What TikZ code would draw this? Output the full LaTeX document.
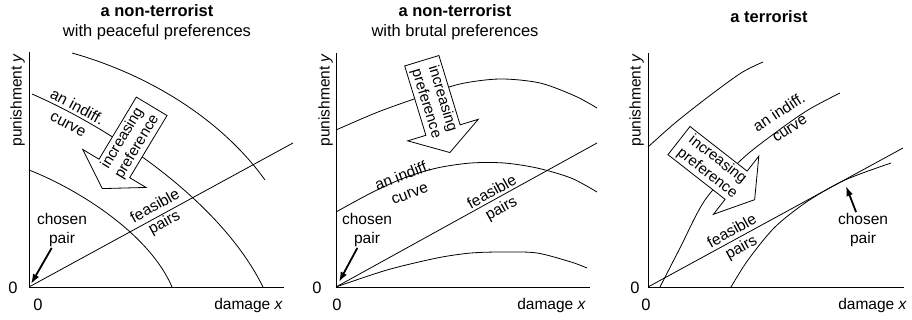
\documentclass[tikz,border=0pt]{standalone}
\usepackage{fontspec}
\setmainfont{Liberation Sans}
\usetikzlibrary{arrows.meta, shapes.arrows}

\newcommand{\lblsize}{\fontsize{15.5}{19}\selectfont}
\newcommand{\ttlsize}{\fontsize{16.5}{20}\selectfont}
\newcommand{\prefsize}{\fontsize{15}{17}\selectfont}

\begin{document}
\begin{tikzpicture}[x=1pt, y=1pt, >=Latex]
    % Stili
    \tikzstyle{axis} = [line width=0.9pt]
    \tikzstyle{curve} = [line width=0.8pt]
    \tikzstyle{lbl} = [font=\lblsize, align=center, inner sep=1pt]
    \tikzstyle{zero} = [font=\fontsize{16.5}{19}\selectfont, inner sep=1pt]
    \tikzstyle{ttl} = [font=\ttlsize, align=center, inner sep=0pt]
    \tikzstyle{pref} = [single arrow, draw, fill=white, line width=0.8pt, font=\prefsize, align=center, inner sep=2pt, single arrow head extend=19pt, single arrow tip angle=115, minimum height=96pt, anchor=tip]
    \tikzstyle{pick} = [-{Latex[length=10pt, width=7pt]}, line width=1.8pt]

    \useasboundingbox (0,0) rectangle (912,320);

    % Pannello 1: non-terrorist, peaceful
    \node[ttl] (t1) at (157,298) {\textbf{a non-terrorist}\\with peaceful preferences};
    \coordinate (o1) at (29,33);
    \draw[axis] (o1) ++(0,235) -- (o1) -- ++(255,0);
    \draw[curve] (72,267) .. controls (150,245) and (222,200) .. (265,140);
    \draw[curve] (32,226) .. controls (110,192) and (220,120) .. (263,33);
    \draw[curve] (29,150) .. controls (80,130) and (150,85) .. (172,33);
    \draw[curve] (o1) -- (293,177);

    \node[lbl, rotate=90, anchor=south] (py1) at (26,220) {punishment \textit{y}};
    \node[lbl, anchor=east] (dx1) at (284,15) {damage \textit{x}};
    \node[zero] (zy1) at (13,32) {0};
    \node[zero] (zx1) at (38,15) {0};
    \node[lbl, rotate=-28] (ic1) at (73,205) {an indiff.\\curve};
    \node[lbl, rotate=29] (fp1) at (160,105) {feasible\\pairs};
    \node[lbl] (cp1) at (62,90) {chosen\\pair};
    \coordinate (ch1) at (31,36);
    \draw[pick] (cp1) -- (ch1);
    \node[pref, rotate=59, shape border rotate=180] (ip1) at (102,131) {increasing\\preference};

    % Pannello 2: non-terrorist, brutal
    \node[ttl] (t2) at (455,298) {\textbf{a non-terrorist}\\with brutal preferences};
    \coordinate (o2) at (336,33);
    \draw[axis] (o2) ++(0,234) -- (o2) -- ++(254,0);
    \draw[curve] plot[smooth] coordinates {(336,190) (378,208) (420,223) (460,236) (500,241) (540,237) (575,224) (597,212)};
    \draw[curve] plot[smooth] coordinates {(336,108) (371,127) (404,142) (437,152) (471,157) (504,157) (537,152) (571,142) (597,128)};
    \draw[curve] plot[smooth] coordinates {(336,33) (387,50) (437,62) (471,67) (504,68) (537,67) (571,58) (587,52)};
    \draw[curve] (o2) -- (597,177);

    \node[lbl, rotate=90, anchor=south] (py2) at (334,220) {punishment \textit{y}};
    \node[lbl, anchor=east] (dx2) at (587,15) {damage \textit{x}};
    \node[zero] (zy2) at (317,32) {0};
    \node[zero] (zx2) at (337,15) {0};
    \node[lbl, rotate=21] (ic2) at (406,136) {an indiff.\\curve};
    \node[lbl, rotate=29] (fp2) at (497,119) {feasible\\pairs};
    \node[lbl] (cp2) at (367,90) {chosen\\pair};
    \coordinate (ch2) at (339,38);
    \draw[pick] (cp2) -- (ch2);
    \node[pref, rotate=-73] (ip2) at (450,167) {increasing\\preference};

    % Pannello 3: terrorist
    \node[ttl] (t3) at (769,303) {\textbf{a terrorist}};
    \coordinate (o3) at (648,33);
    \draw[axis] (o3) ++(0,234) -- (o3) -- ++(256,0);
    \draw[curve] plot[smooth] coordinates {(648,173) (675,197) (708,223) (741,247) (763,258)};
    \draw[curve] plot[smooth] coordinates {(660,33) (680,72) (705,120) (741,160) (775,187) (808,210) (840,227)};
    \draw[curve] plot[smooth] coordinates {(731,33) (748,60) (775,93) (808,119) (845,140) (891,157)};
    \draw[curve] (o3) -- (903,172);

    \node[lbl, rotate=90, anchor=south] (py3) at (645,220) {punishment \textit{y}};
    \node[lbl, anchor=east] (dx3) at (908,15) {damage \textit{x}};
    \node[zero] (zy3) at (635,32) {0};
    \node[zero] (zx3) at (646,15) {0};
    \node[lbl, rotate=33] (ic3) at (784,200) {an indiff.\\curve};
    \node[lbl, rotate=29] (fp3) at (737,80) {feasible\\pairs};
    \node[lbl] (cp3) at (863,90) {chosen\\pair};
    \coordinate (ch3) at (846,134);
    \draw[pick] (cp3) -- (ch3);
    \node[pref, rotate=-38] (ip3) at (755,120) {increasing\\preference};
\end{tikzpicture}
\end{document}
